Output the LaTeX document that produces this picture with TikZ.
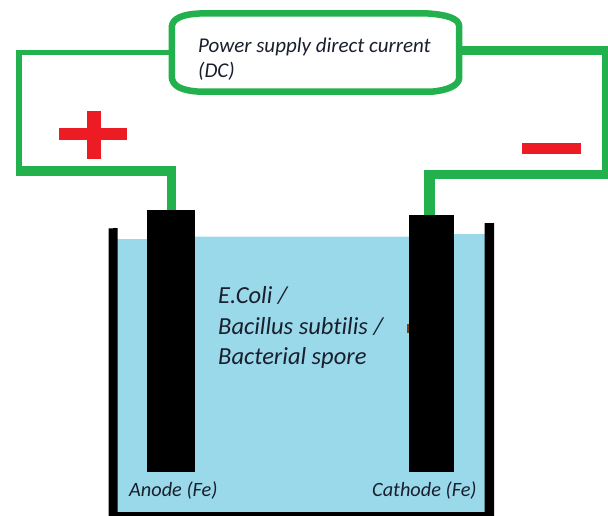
\documentclass[tikz,border=0pt]{standalone}
\usepackage{fontspec}
\setmainfont[Ligatures=NoCommon]{Carlito}
\definecolor{wiregreen}{HTML}{22B14C}
\definecolor{signred}{HTML}{ED1C24}
\definecolor{liquid}{HTML}{99D9EA}
\definecolor{inktext}{HTML}{1A1F2E}
\definecolor{fleck}{HTML}{7A3E10}
\tikzset{
  wire/.style={draw=wiregreen,line cap=butt,line join=miter},
  electrode/.style={fill=black,draw=none,inner sep=0pt,anchor=north west},
  lab/.style={text=inktext,inner sep=0pt,anchor=base west,font=\itshape\fontsize{#1}{#1}\selectfont},
  signbar/.style={fill=signred,draw=none},
  psubox/.style={draw=none,minimum width=287pt,minimum height=78pt,inner sep=0pt}
}
\begin{document}
\begin{tikzpicture}[x=1pt,y=-1pt]
\useasboundingbox (0,0) rectangle (608,516);
% liquid and tank
\fill[liquid] (115,239) -- (147,239) -- (147,236.5) -- (408,236.5) -- (454,236.5) -- (454,234) -- (487,234) -- (487,514) -- (115,514) -- cycle;
\fill[black] (108.5,228.5) -- (117.5,228) -- (117.5,512) -- (484.5,512) -- (484.5,223) -- (494,223) -- (494,516) -- (108.5,516) -- cycle;
% electrodes
\fill[fleck] (407,324) rectangle (409,333);
\node[electrode,minimum width=48pt,minimum height=262pt] (anode) at (147,210) {};
\node[electrode,minimum width=45.5pt,minimum height=257pt] (cathode) at (408.5,215) {};
% power supply
\node[psubox] (psu) at (315.5,52.5) {};
\draw[wire,line width=6.5pt,line join=round]
  (psu.west) -- ([yshift=26pt]psu.west)
  .. controls ([xshift=1pt,yshift=34pt]psu.west) and ([xshift=10pt,yshift=39pt]psu.west) .. ([xshift=34pt]psu.north west)
  -- ([xshift=-34pt]psu.north east)
  .. controls ([xshift=-12pt,yshift=38pt]psu.east) and ([yshift=34pt]psu.east) .. ([yshift=26pt]psu.east)
  -- ([yshift=-25pt]psu.east)
  .. controls ([yshift=-33pt]psu.east) and ([xshift=-12pt,yshift=-38pt]psu.east) .. ([xshift=-28pt]psu.south east)
  -- ([xshift=28pt]psu.south west)
  .. controls ([xshift=8pt,yshift=-38pt]psu.west) and ([xshift=1pt,yshift=-33pt]psu.west) .. ([yshift=-25pt]psu.west)
  -- (psu.west);
% left wire
\coordinate (lt) at (18.5,52.5);
\coordinate (lb) at (18.5,171);
\coordinate (lc) at (171.5,171);
\draw[wire,line width=5.5pt] (psu.west) -- (lt);
\draw[wire,line width=6.5pt] (18.75,50) -- (18.75,176);
\draw[wire,line width=10pt] (15.5,171) -- (176,171);
\draw[wire,line width=9pt] (lc |- 0,166) -- (lc |- anode.north);
% right wire
\coordinate (rt) at (608,50.5);
\coordinate (rb) at (608,174.5);
\coordinate (rc) at (429.5,174.5);
\draw[wire,line width=9pt] (psu.east |- rt) -- (rt);
\draw[wire,line width=6pt] (605,46) -- (605,179);
\draw[wire,line width=9pt] (rb) -- (rc);
\draw[wire,line width=10.5pt] (rc |- 0,170) -- (rc |- cathode.north);
% signs
\fill[signbar] (87,111) rectangle (100.5,159.5);
\fill[signbar] (59,128.5) rectangle (127,140.5);
\fill[signbar] (522,143) rectangle (580.5,154);
% labels
\node[lab=21] (psutext1) at (198,53) {Power supply direct current};
\node[lab=21] (psutext2) at (198,78) {(DC)};
\node[lab=24.5] (bact1) at (218,303) {E.Coli /};
\node[lab=24.5] (bact2) at (218,334) {Bacillus subtilis /};
\node[lab=24.5] (bact3) at (218,364) {Bacterial spore};
\node[lab=20.3] (anodelab) at (129,496) {Anode (Fe)};
\node[lab=20.3] (cathodelab) at (372,496) {Cathode (Fe)};
\end{tikzpicture}
\end{document}
